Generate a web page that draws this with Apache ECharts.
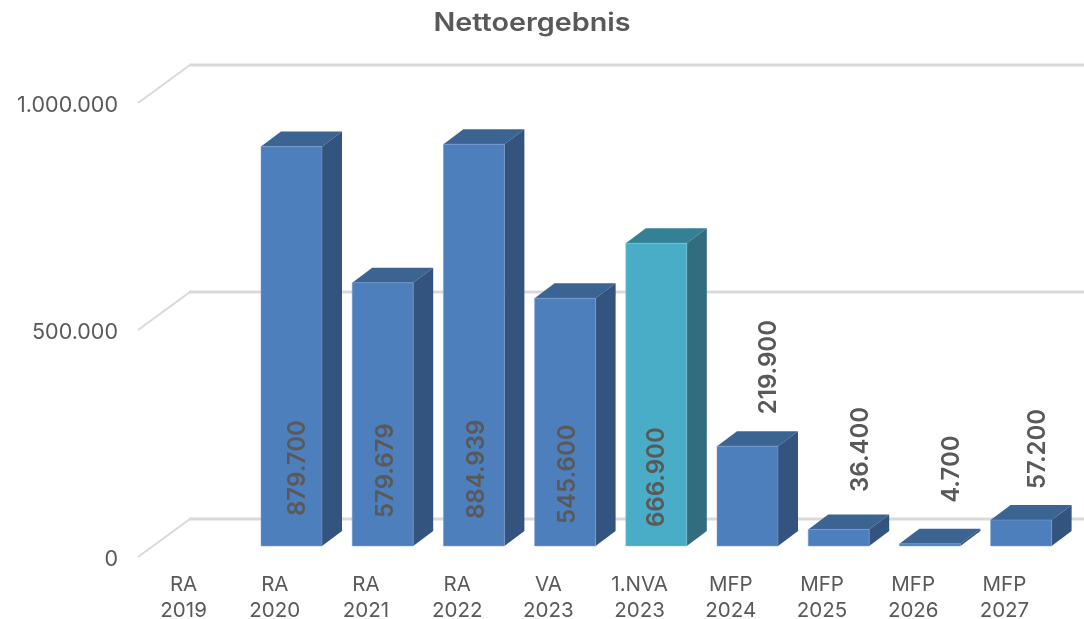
<!DOCTYPE html>
<html>
<head>
<meta charset="utf-8">
<style>html,body{margin:0;padding:0;background:#fff}#chart{width:1084px;height:619px}</style>
<script src="https://cdn.jsdelivr.net/npm/echarts@6/dist/echarts.min.js"></script>
</head>
<body>
<div id="chart"></div>
<script>
const categories = ['RA\n2019','RA\n2020','RA\n2021','RA\n2022','VA\n2023','1.NVA\n2023','MFP\n2024','MFP\n2025','MFP\n2026','MFP\n2027'];
const values = [null,879700,579679,884939,545600,666900,219900,36400,4700,57200];
const yTicks = [0,500000,1000000];
const highlightCategory = '1.NVA\n2023';

// Layout only: per-label nudges, in pixels, away from each bar's centre and edge.
const labelNudgeX = [0,6,2.8,3.1,2.9,0,21,21.8,21.6,16.4];
const labelNudgeY = [0,30,28,27,22,19,32,37.5,41,31];

const FONT = 'Inter';
const TEXT = '#595959';
const fmt = v => String(v).replace(/\B(?=(\d{3})+$)/g,'.');

const chart = echarts.init(document.getElementById('chart'));
const BAR_W = 61, BAR_DX = 16.7, BAR_DY = 11, SIDE_X = 20, SIDE_Y = 15;

function renderWall(params, api){
  const p = api.coord([0, api.value(1)]);
  const x0 = params.coordSys.x, y = p[1];
  return {type:'group',children:[
    {type:'polyline',shape:{points:[[x0,y],[x0+52,y-38]]},style:{stroke:'#d9d9d9',lineWidth:2,fill:null}},
    {type:'polyline',shape:{points:[[x0+51,y-38],[1084,y-38]]},style:{stroke:'#d9d9d9',lineWidth:3,fill:null}}
  ]};
}
function renderBar(params, api){
  const v = api.value(1);
  if (v == null || isNaN(v)) return;
  const i = api.value(0);
  const top = api.coord([i, v]), base = api.coord([i, 0]);
  const l = top[0] + BAR_DX - BAR_W/2, r = l + BAR_W;
  const yt = top[1] - BAR_DY, yb = base[1] - BAR_DY;
  const hl = categories[i] === highlightCategory;
  const c = hl ? {f:'#4aadc8',t:'#348196',s:'#316d7e',e:'#7fc5d9'} : {f:'#4e7fbd',t:'#3c6492',s:'#33547e',e:'#7da3d3'};
  const kids = [
    {type:'polygon',shape:{points:[[l,yt],[l+SIDE_X,yt-SIDE_Y],[r+SIDE_X,yt-SIDE_Y],[r,yt]]},style:{fill:c.t}},
    {type:'polygon',shape:{points:[[r,yt],[r+SIDE_X,yt-SIDE_Y],[r+SIDE_X,yb-SIDE_Y],[r,yb]]},style:{fill:c.s}},
    {type:'rect',shape:{x:l,y:yt,width:BAR_W,height:yb-yt},style:{fill:c.f,stroke:c.e,lineWidth:0.5}}
  ];
  const inside = v > 300000;
  kids.push({type:'text',rotation:Math.PI/2,
    x: top[0] + BAR_DX + labelNudgeX[i],
    y: (inside ? yb : yt) - labelNudgeY[i],
    style:{text:fmt(v),fill:TEXT,font:'600 24px '+FONT,textAlign:'left',textVerticalAlign:'middle'},z2:10});
  return {type:'group',children:kids};
}

chart.setOption({
  animation:false,
  backgroundColor:'#fff',
  graphic:[{type:'text',x:532,y:23,scaleX:1.15,
    style:{text:'Nettoergebnis',fill:TEXT,font:'600 25px '+FONT,textAlign:'center',textVerticalAlign:'middle'}}],
  grid:{left:138,right:34,top:103,height:454,containLabel:false,outerBoundsMode:'none'},
  xAxis:{type:'category',data:categories,axisLine:{show:false},axisTick:{show:false},splitLine:{show:false},
    axisLabel:{interval:0,margin:15,fontFamily:FONT,fontSize:20.5,color:TEXT,lineHeight:26,align:'center'}},
  yAxis:{type:'value',min:0,max:1000000,interval:500000,axisLine:{show:false},axisTick:{show:false},splitLine:{show:false},
    axisLabel:{margin:20,fontFamily:FONT,fontSize:21.5,color:TEXT,verticalAlign:'top',lineHeight:6,formatter:v=>fmt(v)}},
  series:[
    {type:'custom',coordinateSystem:'cartesian2d',clip:false,z:1,silent:true,renderItem:renderWall,
      encode:{x:0,y:1},data:yTicks.map(t=>[0,t])},
    {type:'custom',coordinateSystem:'cartesian2d',clip:false,z:2,silent:true,renderItem:renderBar,
      encode:{x:0,y:1},data:values.map((v,i)=>[i,v])}
  ]
});
</script>
</body>
</html>
